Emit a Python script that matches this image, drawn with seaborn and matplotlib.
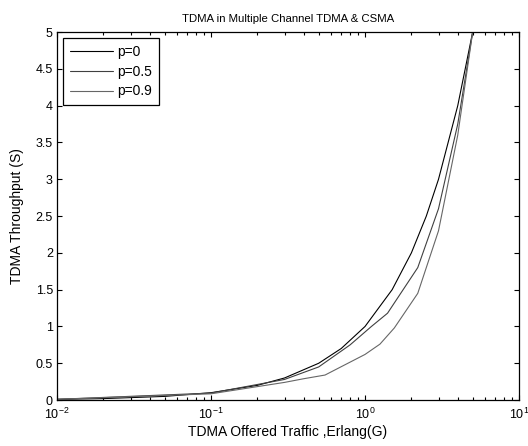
import numpy as np
import pandas as pd
import matplotlib
matplotlib.use("Agg")
import matplotlib.pyplot as plt
from matplotlib.ticker import FuncFormatter, LogLocator
import seaborn as sns

# offered traffic G and throughput S for each p
g_p0 = [0.01, 0.02, 0.05, 0.1, 0.2, 0.3, 0.5, 0.7, 1.0, 1.5, 2.0, 2.5, 3.0, 4.0, 5.0]
s_p0 = [0.01, 0.02, 0.05, 0.1, 0.2, 0.3, 0.5, 0.7, 1.0, 1.5, 2.0, 2.5, 3.0, 4.0, 5.0]

g_p05 = [0.01, 0.1, 0.3, 0.5, 0.8, 1.1, 1.4, 2.2, 3.0, 4.0, 5.0]
s_p05 = [0.01, 0.095, 0.28, 0.45, 0.75, 1.0, 1.18, 1.8, 2.6, 3.75, 5.0]

g_p09 = [0.01, 0.1, 0.3, 0.4, 0.55, 1.0, 1.25, 1.55, 2.2, 3.0, 4.0, 5.0]
s_p09 = [0.01, 0.085, 0.24, 0.29, 0.34, 0.62, 0.76, 0.98, 1.45, 2.3, 3.6, 5.0]

labels = ["p=0", "p=0.5", "p=0.9"]
colors = ["#000000", "#404040", "#666666"]

sns.set_style("ticks")
plt.rcParams["font.family"] = ["Liberation Sans", "DejaVu Sans"]
plt.rcParams["mathtext.fontset"] = "custom"
plt.rcParams["mathtext.rm"] = "Liberation Sans"
plt.rcParams["mathtext.it"] = "Liberation Sans"
plt.rcParams["mathtext.default"] = "regular"
plt.rcParams["text.color"] = "black"
plt.rcParams["axes.labelcolor"] = "black"

df = pd.concat([
    pd.DataFrame({"G": g_p0, "S": s_p0, "p": labels[0]}),
    pd.DataFrame({"G": g_p05, "S": s_p05, "p": labels[1]}),
    pd.DataFrame({"G": g_p09, "S": s_p09, "p": labels[2]}),
])

fig = plt.figure(figsize=(5.28, 4.46), dpi=100)
ax = fig.add_axes([0.108, 0.103, 0.875, 0.825])

sns.lineplot(data=df, x="G", y="S", hue="p", palette=dict(zip(labels, colors)),
             sort=False, estimator=None, linewidth=0.8, ax=ax)

ax.set_xscale("log")
ax.set_xlim(0.01, 10)
ax.set_ylim(0, 5)
ax.set_yticks(np.arange(0, 5.01, 0.5))
ax.yaxis.set_major_formatter(FuncFormatter(lambda v, pos: "%g" % v))
ax.xaxis.set_major_locator(LogLocator(base=10, numticks=10))
ax.xaxis.set_minor_locator(LogLocator(base=10, subs=np.arange(2, 10), numticks=10))

for s in ax.spines.values():
    s.set_visible(True)
    s.set_linewidth(0.9)
    s.set_color("black")
ax.tick_params(which="both", direction="in", top=True, right=True, labelsize=9,
               colors="black", labelcolor="black")
ax.tick_params(which="major", length=3.5, width=0.8)
ax.tick_params(which="minor", length=2, width=0.8)
ax.tick_params(axis="x", which="major", pad=5)
ax.tick_params(axis="y", which="major", pad=3)

ax.set_title("TDMA in Multiple Channel TDMA & CSMA", fontsize=8.2, pad=7, color="black")
ax.set_xlabel("TDMA Offered Traffic ,Erlang(G)", fontsize=10, labelpad=2, color="black")
ax.set_ylabel("TDMA Throughput (S)", fontsize=10, labelpad=8, color="black")

leg = ax.legend(loc="upper left", fontsize=10, handlelength=3.1, frameon=True,
                fancybox=False, edgecolor="black", borderaxespad=0.45,
                labelspacing=0.4, handletextpad=0.25, borderpad=0.5)
leg.get_frame().set_linewidth(0.9)
leg.get_frame().set_alpha(1)
for t in leg.get_texts():
    t.set_color("black")

fig.savefig("out.png", dpi=100)
